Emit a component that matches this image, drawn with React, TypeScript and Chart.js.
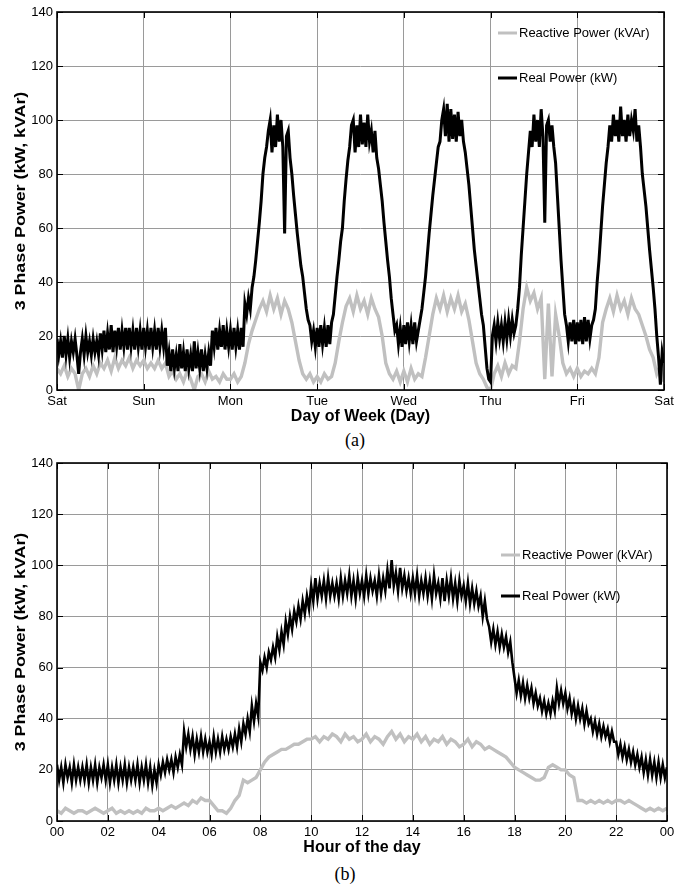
import React, { useEffect, useRef } from 'react';
import { Chart, registerables } from 'chart.js';

Chart.register(...registerables);

const FONT = '"Liberation Sans", Arial, Helvetica, sans-serif';

// ---------- tick labels ----------
const dayLabels = ['Sat', 'Sun', 'Mon', 'Tue', 'Wed', 'Thu', 'Fri', 'Sat'];
const hourLabels = ['00', '02', '04', '06', '08', '10', '12', '14', '16', '18', '20', '22', '00'];

// ---------- (a) one week (Sat 00:00 .. next Sat 00:00) ----------
// real power: 30-minute samples (48 per day)
const weekReal = [
  19, 13, 18, 12, 20, 13, 19, 12, 18, 14, 19, 13, 6, 14, 19, 13, 20, 14, 18, 13, 19, 14, 18, 13,
  21, 15, 22, 14, 21, 15, 24, 14, 22, 16, 23, 15, 22, 16, 23, 15, 23, 16, 22, 15, 23, 16, 22, 15,
  23, 16, 22, 15, 23, 16, 22, 15, 23, 16, 22, 16, 23, 9, 14, 7, 15, 8, 13, 7, 17, 8, 14, 7,
  15, 8, 13, 7, 18, 8, 14, 8, 15, 7, 13, 8, 14, 9, 22, 16, 23, 15, 22, 16, 24, 15, 22, 16,
  22, 15, 23, 16, 22, 15, 23, 16, 32, 28, 34, 30, 38, 42, 48, 55, 62, 70, 80, 86, 90, 96, 100, 88,
  98, 90, 102, 92, 100, 90, 58, 94, 96, 86, 80, 72, 65, 58, 52, 46, 42, 36, 30, 26, 24, 18, 22, 16,
  23, 16, 24, 17, 23, 16, 24, 17, 25, 28, 35, 42, 48, 55, 60, 70, 78, 85, 90, 98, 100, 88, 98, 90,
  102, 91, 99, 90, 102, 92, 96, 88, 96, 86, 82, 76, 70, 62, 55, 48, 42, 34, 28, 22, 24, 17, 23, 16,
  24, 17, 25, 18, 24, 17, 25, 18, 22, 26, 30, 36, 42, 50, 58, 65, 72, 78, 84, 90, 92, 100, 104, 94,
  106, 92, 104, 93, 102, 92, 103, 94, 100, 92, 88, 82, 76, 68, 60, 52, 46, 40, 34, 28, 24, 16, 8, 4,
  3, 20, 24, 18, 25, 19, 24, 18, 25, 19, 26, 20, 26, 21, 24, 30, 38, 50, 60, 70, 80, 88, 96, 90,
  102, 92, 100, 90, 104, 94, 62, 98, 100, 92, 98, 90, 84, 72, 60, 48, 38, 28, 24, 18, 25, 18, 26, 17,
  25, 18, 26, 17, 27, 18, 26, 19, 24, 26, 30, 40, 48, 58, 68, 76, 84, 90, 98, 92, 102, 94, 100, 92,
  105, 94, 100, 92, 102, 94, 100, 96, 104, 92, 98, 90, 80, 74, 68, 60, 52, 45, 38, 30, 20, 12, 2, 14,
  10,
];
// reactive power: hourly samples
const weekReactive = [
  8, 6, 9, 5, 8, 6, 0, 6, 8, 5, 9, 6, 10, 8, 11, 7, 12, 8, 11, 9, 12, 8, 11, 9,
  11, 8, 10, 8, 11, 8, 10, 5, 7, 4, 6, 3, 7, 4, 0, 5, 6, 3, 7, 4, 5, 3, 6, 4,
  4, 6, 3, 5, 10, 17, 22, 26, 30, 33, 29, 35, 30, 34, 28, 33, 30, 25, 18, 11, 6, 4, 6, 3,
  5, 3, 6, 4, 5, 10, 18, 25, 31, 34, 29, 35, 30, 33, 28, 34, 30, 27, 20, 10, 6, 4, 7, 3,
  7, 3, 8, 4, 6, 5, 12, 20, 28, 34, 30, 35, 29, 34, 30, 35, 29, 32, 26, 18, 10, 6, 4, 1,
  0, 6, 9, 5, 10, 6, 9, 8, 18, 30, 38, 33, 36, 30, 34, 4, 32, 5, 28, 20, 10, 6, 8, 5,
  8, 5, 7, 6, 8, 6, 12, 25, 30, 34, 29, 35, 30, 33, 28, 34, 30, 28, 24, 20, 15, 12, 6, 9, 3,
];

// ---------- (b) one day (00:00 .. 24:00) ----------
// real power: 5-minute samples (12 per hour)
const dayReal = [
  22, 16, 21, 15, 22, 17, 21, 15, 22, 16, 21, 16,
  21, 16, 22, 15, 21, 16, 22, 15, 21, 17, 22, 16,
  22, 15, 21, 16, 22, 15, 21, 16, 22, 15, 21, 16,
  21, 16, 22, 15, 21, 16, 22, 15, 21, 14, 20, 15,
  22, 18, 23, 19, 24, 20, 24, 19, 25, 21, 26, 22,
  35, 29, 34, 28, 33, 26, 32, 27, 33, 27, 32, 27,
  31, 26, 33, 27, 32, 27, 33, 28, 32, 28, 33, 29,
  34, 29, 36, 31, 38, 34, 40, 35, 45, 39, 46, 41,
  62, 59, 64, 60, 66, 63, 68, 64, 72, 67, 74, 69,
  78, 73, 80, 75, 82, 78, 84, 79, 86, 81, 88, 83,
  92, 86, 95, 87, 93, 88, 94, 87, 95, 88, 93, 88,
  93, 87, 95, 88, 94, 89, 96, 88, 94, 87, 95, 89,
  94, 88, 96, 89, 95, 90, 94, 88, 96, 89, 95, 90,
  98, 91, 102, 92, 97, 90, 99, 91, 96, 90, 95, 89,
  95, 89, 96, 88, 94, 89, 95, 88, 94, 87, 96, 89,
  93, 87, 95, 86, 94, 88, 95, 87, 93, 86, 94, 88,
  92, 86, 93, 85, 91, 85, 90, 84, 88, 80, 86, 79,
  76, 70, 75, 69, 74, 68, 73, 68, 72, 66, 70, 62,
  56, 50, 55, 49, 54, 48, 53, 48, 52, 46, 50, 45,
  48, 43, 47, 42, 46, 42, 47, 43, 52, 46, 51, 46,
  50, 44, 48, 42, 46, 40, 45, 40, 44, 38, 43, 38,
  40, 35, 39, 34, 38, 33, 37, 33, 36, 31, 35, 31,
  31, 26, 30, 25, 29, 24, 28, 23, 27, 22, 26, 21,
  25, 19, 24, 18, 24, 18, 23, 17, 23, 17, 22, 17,
  21,
];
// reactive power: 10-minute samples (6 per hour)
const dayReactive = [
  4, 3, 5, 4, 3, 4,
  4, 3, 4, 5, 4, 3,
  4, 5, 3, 4, 3, 4,
  3, 4, 3, 5, 4, 4,
  5, 4, 5, 6, 5, 6,
  7, 6, 8, 7, 9, 8,
  8, 6, 4, 4, 3, 5,
  8, 10, 16, 15, 16, 17,
  20, 23, 25, 26, 27, 28,
  28, 29, 30, 30, 31, 32,
  32, 33, 31, 33, 32, 34,
  33, 31, 34, 32, 33, 31,
  32, 34, 31, 33, 32, 30,
  33, 35, 32, 34, 31, 33,
  32, 34, 31, 33, 30, 32,
  31, 33, 30, 32, 31, 29,
  30, 32, 29, 31, 30, 28,
  29, 28, 27, 26, 25, 23,
  21, 20, 19, 18, 17, 16,
  16, 17, 21, 22, 21, 20,
  20, 18, 17, 8, 8, 7,
  8, 7, 8, 7, 8, 7,
  8, 8, 7, 8, 7, 6,
  5, 4, 5, 4, 5, 4,
  5,
];

const REAL_LABEL = 'Real Power (kW)';
const REACTIVE_LABEL = 'Reactive Power (kVAr)';
const Y_TITLE = '3 Phase Power (kW, kVAr)';
const REAL_COLOR = '#000000';
const REACTIVE_COLOR = '#c0c0c0';
const GRID_COLOR = '#9a9a9a';

type LegendRow = { label: string; color: string; dy: number };

function makeFramePlugin(legendFromRight: number, rows: LegendRow[]) {
  return {
    id: 'matlabFrame',
    afterDatasetsDraw(chart: any) {
      const { ctx, chartArea: a, scales } = chart;
      ctx.save();
      ctx.strokeStyle = '#000';
      ctx.lineWidth = 1;
      const xs = scales.x;
      const ys = scales.y;
      xs.ticks.forEach((t: any) => {
        const px = Math.round(xs.getPixelForValue(t.value)) + 0.5;
        ctx.beginPath();
        ctx.moveTo(px, a.bottom);
        ctx.lineTo(px, a.bottom - 6);
        ctx.moveTo(px, a.top);
        ctx.lineTo(px, a.top + 6);
        ctx.stroke();
      });
      ys.ticks.forEach((t: any) => {
        const py = Math.round(ys.getPixelForValue(t.value)) + 0.5;
        ctx.beginPath();
        ctx.moveTo(a.left, py);
        ctx.lineTo(a.left + 6, py);
        ctx.moveTo(a.right, py);
        ctx.lineTo(a.right - 6, py);
        ctx.stroke();
      });
      ctx.lineWidth = 1.6;
      ctx.strokeRect(a.left, a.top, a.right - a.left, a.bottom - a.top);

      // legend (no box, inside the axes)
      const x0 = a.right - legendFromRight;
      ctx.font = `13px ${FONT}`;
      ctx.textBaseline = 'middle';
      ctx.textAlign = 'left';
      rows.forEach((r) => {
        const y = a.top + r.dy;
        ctx.strokeStyle = r.color;
        ctx.lineWidth = 3;
        ctx.beginPath();
        ctx.moveTo(x0, y);
        ctx.lineTo(x0 + 19, y);
        ctx.stroke();
        ctx.fillStyle = '#000';
        ctx.fillText(r.label, x0 + 21, y + 0.5);
      });

      // y-axis title (slightly stretched along its length, as in the original figure)
      ctx.save();
      ctx.translate(21, (a.top + a.bottom) / 2);
      ctx.rotate(-Math.PI / 2);
      ctx.scale(1.15, 1);
      ctx.font = `bold 15.5px ${FONT}`;
      ctx.textAlign = 'center';
      ctx.textBaseline = 'middle';
      ctx.fillStyle = '#000';
      ctx.fillText(Y_TITLE, 0, 0);
      ctx.restore();

      ctx.restore();
    },
  };
}

function buildConfig(opts: {
  real: number[];
  reactive: number[];
  realPerUnit: number;
  reactivePerUnit: number;
  xMax: number;
  xStep: number;
  xLabels: string[];
  xTitle: string;
  padTop: number;
  padRight: number;
  xAxisHeight: number;
  xTitlePadBottom: number;
  realWidth: number;
  legendRows: LegendRow[];
}) {
  const tickFont = { family: FONT, size: 13 };
  const titleFont = { family: FONT, size: 16, weight: 'bold' as const };
  return {
    type: 'line' as const,
    data: {
      datasets: [
        {
          label: REAL_LABEL,
          data: opts.real.map((y, i) => ({ x: i / opts.realPerUnit, y })),
          borderColor: REAL_COLOR,
          borderWidth: opts.realWidth,
          pointRadius: 0,
          tension: 0,
          fill: false,
        },
        {
          label: REACTIVE_LABEL,
          data: opts.reactive.map((y, i) => ({ x: i / opts.reactivePerUnit, y })),
          borderColor: REACTIVE_COLOR,
          borderWidth: 3.4,
          pointRadius: 0,
          tension: 0,
          fill: false,
        },
      ],
    },
    options: {
      responsive: false,
      animation: false as const,
      devicePixelRatio: 1,
      layout: { padding: { left: 0, right: opts.padRight, top: opts.padTop, bottom: 0 } },
      plugins: { legend: { display: false }, tooltip: { enabled: false } },
      scales: {
        x: {
          type: 'linear' as const,
          min: 0,
          max: opts.xMax,
          ticks: {
            stepSize: opts.xStep,
            autoSkip: false,
            maxRotation: 0,
            padding: 4,
            color: '#000',
            font: tickFont,
            callback: (v: any) => opts.xLabels[Math.round(Number(v) / opts.xStep)] ?? '',
          },
          grid: { color: GRID_COLOR, lineWidth: 1, drawTicks: false },
          border: { display: false },
          title: {
            display: true,
            text: opts.xTitle,
            color: '#000',
            font: titleFont,
            padding: { top: 0, bottom: opts.xTitlePadBottom },
          },
          afterFit: (s: any) => {
            s.height = opts.xAxisHeight;
          },
        },
        y: {
          type: 'linear' as const,
          min: 0,
          max: 140,
          ticks: { stepSize: 20, padding: 4, color: '#000', font: tickFont },
          grid: { color: GRID_COLOR, lineWidth: 1, drawTicks: false },
          border: { display: false },
          title: { display: false },
          afterFit: (s: any) => {
            s.width = 57;
          },
        },
      },
    },
    plugins: [makeFramePlugin(166, opts.legendRows)],
  };
}

function PowerChart(props: { top: number; height: number; config: any }) {
  const ref = useRef<HTMLCanvasElement | null>(null);
  useEffect(() => {
    if (!ref.current) return;
    const chart = new Chart(ref.current, props.config);
    return () => chart.destroy();
  }, []);
  return (
    <canvas
      ref={ref}
      width={699}
      height={props.height}
      style={{ position: 'absolute', left: 0, top: props.top, width: 699, height: props.height }}
    />
  );
}

export default function App() {
  const weekConfig = buildConfig({
    real: weekReal,
    reactive: weekReactive,
    realPerUnit: 48,
    reactivePerUnit: 24,
    xMax: 7,
    xStep: 1,
    xLabels: dayLabels,
    xTitle: 'Day of Week (Day)',
    padTop: 12,
    padRight: 35,
    xAxisHeight: 40,
    xTitlePadBottom: 3.4,
    realWidth: 3,
    legendRows: [
      { label: REACTIVE_LABEL, color: REACTIVE_COLOR, dy: 21 },
      { label: REAL_LABEL, color: REAL_COLOR, dy: 66 },
    ],
  });
  const dayConfig = buildConfig({
    real: dayReal,
    reactive: dayReactive,
    realPerUnit: 12,
    reactivePerUnit: 6,
    xMax: 24,
    xStep: 2,
    xLabels: hourLabels,
    xTitle: 'Hour of the day',
    padTop: 13,
    padRight: 32,
    xAxisHeight: 39,
    xTitlePadBottom: 2.4,
    realWidth: 2.6,
    legendRows: [
      { label: REACTIVE_LABEL, color: REACTIVE_COLOR, dy: 92 },
      { label: REAL_LABEL, color: REAL_COLOR, dy: 133 },
    ],
  });
  const capStyle: React.CSSProperties = {
    position: 'absolute',
    width: 100,
    textAlign: 'center',
    fontFamily: '"Liberation Serif", "Times New Roman", serif',
    fontSize: 18,
    lineHeight: '20px',
    color: '#000',
  };
  return (
    <div style={{ position: 'absolute', left: 0, top: 0, width: 699, height: 886, background: '#fff' }}>
      <PowerChart top={0} height={430} config={weekConfig} />
      <div style={{ ...capStyle, left: 305, top: 430 }}>(a)</div>
      <PowerChart top={450} height={410} config={dayConfig} />
      <div style={{ ...capStyle, left: 295, top: 864 }}>(b)</div>
    </div>
  );
}
